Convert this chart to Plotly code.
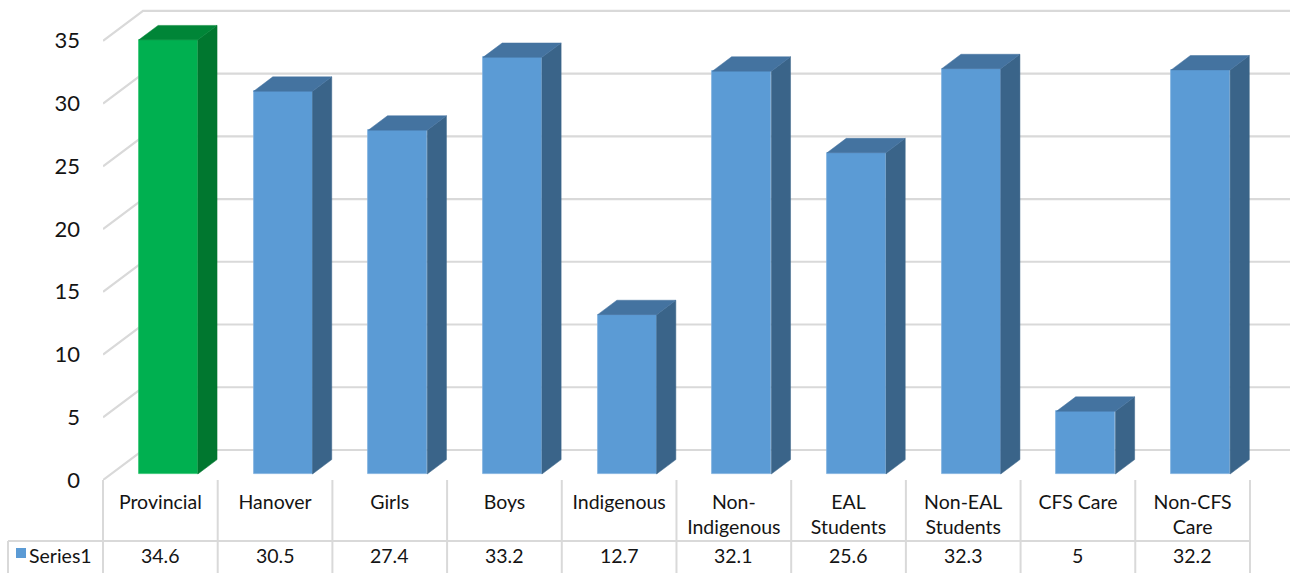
import plotly.graph_objects as go

# Data
categories = ["Provincial", "Hanover", "Girls", "Boys", "Indigenous",
              "Non-Indigenous", "EAL Students", "Non-EAL Students", "CFS Care", "Non-CFS Care"]
tick_text = ["Provincial", "Hanover", "Girls", "Boys", "Indigenous",
             "Non-<br>Indigenous", "EAL<br>Students", "Non-EAL<br>Students", "CFS Care", "Non-CFS<br>Care"]
values = [34.6, 30.5, 27.4, 33.2, 12.7, 32.1, 25.6, 32.3, 5, 32.2]
series_name = "Series1"
y_ticks = [0, 5, 10, 15, 20, 25, 30, 35]

# Styling
FONT = "Lato"
TXT = "#141414"
GRID = "#d9d9d9"
FRONT = ["#00B050"] + ["#5B9BD5"] * 9
TOP = ["#008537"] + ["#4473A0"] * 9
SIDE = ["#00772F"] + ["#3A6489"] * 9
EDGE = ["#2fc470"] + ["#7eb0de"] * 9

# Pseudo-3D projection: depth z in [0, 1] shifts right (DX categories) and up (DY value units)
DX = 0.349
DY = 2.39
Z0, Z1 = 0.2, 0.68      # front and back depth of each bar
HALF = 0.257            # half bar width in category units

n = len(categories)
x_min, x_max = -0.5, n - 0.5 + DX
y_min, y_max = 0, 38.25

W, H = 1292, 573
M_L, M_R, M_T, M_B = 103, 2, 0, 93
PLOT_W = W - M_L - M_R
PLOT_H = H - M_T - M_B


def proj(x, v, z):
    return x + z * DX, v + z * DY


def paper_x(u):
    return (u - x_min) / (x_max - x_min)


def paper_x_px(p):
    return (p - M_L) / PLOT_W


def paper_y_px(p):
    return (PLOT_H - (p - M_T)) / PLOT_H


fig = go.Figure()
shapes = []

# Floor edges and back-wall gridlines, kept beneath the bars
for t in y_ticks:
    x0, v0 = proj(-0.5, t, 0)
    x1, v1 = proj(-0.5, t, 1)
    x2, v2 = proj(n - 0.5, t, 1)
    shapes.append(dict(type="path", xref="x", yref="y", layer="below",
                       path=f"M {x0},{v0} L {x1},{v1} L {x2},{v2}",
                       line=dict(color=GRID, width=2.2)))

# Front faces of the bars
fig.add_trace(go.Bar(
    x=[i + Z0 * DX for i in range(n)],
    y=values,
    base=[Z0 * DY] * n,
    width=2 * HALF,
    marker=dict(color=FRONT, line=dict(color=EDGE, width=0.8)),
    name=series_name,
    showlegend=False,
    hovertext=categories,
))

# Side and top faces
for i, v in enumerate(values):
    side = [proj(i + HALF, 0, Z0), proj(i + HALF, 0, Z1), proj(i + HALF, v, Z1), proj(i + HALF, v, Z0)]
    top = [proj(i - HALF, v, Z0), proj(i + HALF, v, Z0), proj(i + HALF, v, Z1), proj(i - HALF, v, Z1)]
    for pts, col in ((side, SIDE[i]), (top, TOP[i])):
        xs = [p[0] for p in pts] + [pts[0][0]]
        ys = [p[1] for p in pts] + [pts[0][1]]
        fig.add_trace(go.Scatter(x=xs, y=ys, mode="lines", fill="toself", fillcolor=col,
                                 line=dict(color=col, width=0.5), hoverinfo="skip",
                                 showlegend=False))

# Data table below the axis
row_top = paper_y_px(480)
row_mid = paper_y_px(541)
row_bot = paper_y_px(575)
left_paper = paper_x_px(8)
for k in range(n + 1):
    xp = paper_x(k - 0.5)
    shapes.append(dict(type="line", xref="paper", yref="paper", x0=xp, x1=xp,
                       y0=row_top, y1=row_bot, line=dict(color=GRID, width=2)))
shapes.append(dict(type="line", xref="paper", yref="paper", x0=left_paper, x1=paper_x(n - 0.5),
                   y0=row_mid, y1=row_mid, line=dict(color=GRID, width=2)))
shapes.append(dict(type="line", xref="paper", yref="paper", x0=left_paper, x1=left_paper,
                   y0=row_mid, y1=row_bot, line=dict(color=GRID, width=2)))
# legend key
shapes.append(dict(type="rect", xref="paper", yref="paper",
                   x0=paper_x_px(16), x1=paper_x_px(26),
                   y0=paper_y_px(558), y1=paper_y_px(548),
                   fillcolor="#5B9BD5", line=dict(width=0)))

annotations = []
for i, v in enumerate(values):
    annotations.append(dict(x=i, y=paper_y_px(555), xref="x", yref="paper",
                            text=f"{v:g}", showarrow=False,
                            font=dict(family=FONT, size=19.5, color=TXT),
                            xanchor="center", yanchor="middle"))
annotations.append(dict(x=paper_x_px(27), y=paper_y_px(555), xref="paper", yref="paper",
                        text=series_name, showarrow=False,
                        font=dict(family=FONT, size=19.5, color=TXT),
                        xanchor="left", yanchor="middle"))

fig.update_layout(
    width=W, height=H,
    margin=dict(l=M_L, r=M_R, t=M_T, b=M_B),
    paper_bgcolor="white", plot_bgcolor="white",
    shapes=shapes,
    annotations=annotations,
    bargap=0,
    xaxis=dict(range=[x_min, x_max], tickvals=list(range(n)), ticktext=tick_text,
               showgrid=False, zeroline=False, showline=False, ticks="",
               tickfont=dict(family=FONT, size=19.5, color=TXT), ticklabelstandoff=8,
               tickangle=0),
    yaxis=dict(range=[y_min, y_max], tickvals=y_ticks, showgrid=False, zeroline=False,
               showline=False, ticks="", tickfont=dict(family=FONT, size=22, color=TXT),
               ticklabelstandoff=22),
)

fig.write_html("out.html")
